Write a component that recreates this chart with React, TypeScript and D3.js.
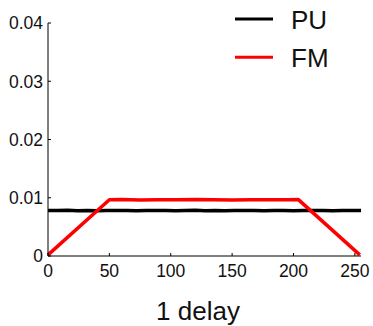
import React from "react";
import * as d3 from "d3";

const xTicks = [0, 50, 100, 150, 200, 250];
const yTicks = [0, 0.01, 0.02, 0.03, 0.04];
const yTickLabels = ["0", "0.01", "0.02", "0.03", "0.04"];

const puX = [0, 8, 16, 24, 32, 40, 48, 56, 64, 72, 80, 88, 96, 104, 112, 120, 128, 136, 144, 152, 160, 168, 176, 184, 192, 200, 208, 216, 224, 232, 240, 248, 255];
const puY = [0.00782, 0.00779, 0.00784, 0.00778, 0.00781, 0.00777, 0.00783, 0.00779, 0.0078, 0.00776, 0.00782, 0.00779, 0.00783, 0.00777, 0.0078, 0.00784, 0.00778, 0.00781, 0.00777, 0.00782, 0.00779, 0.00783, 0.00778, 0.0078, 0.00782, 0.00777, 0.00781, 0.00779, 0.00783, 0.00778, 0.0078, 0.00782, 0.00779];

const fmX = [0, 50, 60, 75, 90, 105, 120, 135, 150, 165, 180, 195, 204, 254];
const fmY = [0.0002, 0.00965, 0.00968, 0.00963, 0.00967, 0.00964, 0.00968, 0.00965, 0.00963, 0.00967, 0.00964, 0.00966, 0.00968, 0.0002];

const series = [
  { name: "PU", color: "#000000", xs: puX, ys: puY },
  { name: "FM", color: "#ff0000", xs: fmX, ys: fmY },
];

export default function App() {
  const W = 373, H = 326;
  const x = d3.scaleLinear().domain([0, 255]).range([48, 361]);
  const y = d3.scaleLinear().domain([0, 0.04]).range([256, 23]);
  const line = d3.line<[number, number]>().x(d => x(d[0])).y(d => y(d[1]));
  const font = "'Liberation Sans', Arial, sans-serif";
  return (
    <svg width={W} height={H} style={{ position: "absolute", left: 0, top: 0, background: "#fff" }}>
      <rect width={W} height={H} fill="#fff" />
      {series.map(s => (
        <path key={s.name} d={line(s.xs.map((v, i) => [v, s.ys[i]]) as [number, number][]) || ""}
          fill="none" stroke={s.color} strokeWidth={3.5} strokeLinejoin="round" />
      ))}
      <line x1={48} x2={48} y1={y(0.04)} y2={y(0)} stroke="#000" strokeWidth={1} />
      <line x1={48} x2={x(255)} y1={y(0)} y2={y(0)} stroke="#000" strokeWidth={1} />
      {yTicks.map((t, i) => (
        <g key={"y" + i}>
          <line x1={48} x2={51} y1={y(t)} y2={y(t)} stroke="#000" />
          <text x={43} y={y(t)} dy="0.36em" textAnchor="end" fontFamily={font} fontSize={17.5} fill="#111">{yTickLabels[i]}</text>
        </g>
      ))}
      {xTicks.map(t => (
        <g key={"x" + t}>
          <line x1={x(t)} x2={x(t)} y1={y(0)} y2={y(0) - 3} stroke="#000" />
          <text x={x(t)} y={277} textAnchor="middle" fontFamily={font} fontSize={17.5} fill="#111">{t}</text>
        </g>
      ))}
      <text x={198} y={320} textAnchor="middle" fontFamily={font} fontSize={26} fill="#111">1 delay</text>
      {series.map((s, i) => (
        <g key={"l" + s.name}>
          <line x1={235} x2={273} y1={19 + i * 38.3} y2={19 + i * 38.3} stroke={s.color} strokeWidth={3} />
          <text x={291} y={28.5 + i * 38.3} fontFamily={font} fontSize={26} fill="#111">{s.name}</text>
        </g>
      ))}
    </svg>
  );
}
